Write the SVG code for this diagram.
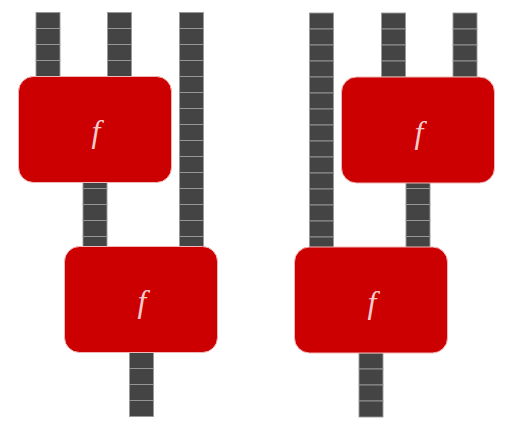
<svg xmlns="http://www.w3.org/2000/svg" width="513" height="430" viewBox="0 0 513 430">
<style>
.cell{fill:#444444;stroke:#9a9a9a;stroke-width:0.9}
.box{fill:#cc0000;stroke:#efb8b8;stroke-width:1}
.lbl{font-family:"Liberation Serif","DejaVu Serif",serif;font-style:italic;font-size:32px;fill:#f6cccc;text-anchor:middle}
</style>
<defs>
<pattern id="wireL" x="0" y="12.5" width="24" height="16" patternUnits="userSpaceOnUse">
<rect class="cell" x="0" y="0" width="24" height="16"/>
</pattern>
</defs>
<rect width="513" height="430" fill="#ffffff"/>
<g id="connectors">
<g id="wL1"><rect class="cell" x="36" y="12.5" width="24" height="16"/><rect class="cell" x="36" y="28.5" width="24" height="16"/><rect class="cell" x="36" y="44.5" width="24" height="16"/><rect class="cell" x="36" y="60.5" width="24" height="16"/></g>
<g id="wL2"><rect class="cell" x="107.5" y="12.5" width="24" height="16"/><rect class="cell" x="107.5" y="28.5" width="24" height="16"/><rect class="cell" x="107.5" y="44.5" width="24" height="16"/><rect class="cell" x="107.5" y="60.5" width="24" height="16"/></g>
<g id="wL3">
<rect class="cell" x="179.5" y="12.5" width="24" height="16"/><rect class="cell" x="179.5" y="28.5" width="24" height="16"/><rect class="cell" x="179.5" y="44.5" width="24" height="16"/><rect class="cell" x="179.5" y="60.5" width="24" height="16"/><rect class="cell" x="179.5" y="76.5" width="24" height="16"/><rect class="cell" x="179.5" y="92.5" width="24" height="16"/><rect class="cell" x="179.5" y="108.5" width="24" height="16"/><rect class="cell" x="179.5" y="124.5" width="24" height="16"/><rect class="cell" x="179.5" y="140.5" width="24" height="16"/><rect class="cell" x="179.5" y="156.5" width="24" height="16"/><rect class="cell" x="179.5" y="172.5" width="24" height="16"/><rect class="cell" x="179.5" y="188.5" width="24" height="16"/><rect class="cell" x="179.5" y="204.5" width="24" height="16"/><rect class="cell" x="179.5" y="220.5" width="24" height="16"/><rect class="cell" x="179.5" y="236.5" width="24" height="16"/>
</g>
<g id="wL4"><rect class="cell" x="83" y="172.5" width="24" height="16"/><rect class="cell" x="83" y="188.5" width="24" height="16"/><rect class="cell" x="83" y="204.5" width="24" height="16"/><rect class="cell" x="83" y="220.5" width="24" height="16"/><rect class="cell" x="83" y="236.5" width="24" height="16"/></g>
<g id="wL5"><rect class="cell" x="129.5" y="352.5" width="24" height="16"/><rect class="cell" x="129.5" y="368.5" width="24" height="16"/><rect class="cell" x="129.5" y="384.5" width="24" height="16"/><rect class="cell" x="129.5" y="400.5" width="24" height="16"/></g>

<g id="wR1">
<rect class="cell" x="309.5" y="13" width="24" height="16"/><rect class="cell" x="309.5" y="29" width="24" height="16"/><rect class="cell" x="309.5" y="45" width="24" height="16"/><rect class="cell" x="309.5" y="61" width="24" height="16"/><rect class="cell" x="309.5" y="77" width="24" height="16"/><rect class="cell" x="309.5" y="93" width="24" height="16"/><rect class="cell" x="309.5" y="109" width="24" height="16"/><rect class="cell" x="309.5" y="125" width="24" height="16"/><rect class="cell" x="309.5" y="141" width="24" height="16"/><rect class="cell" x="309.5" y="157" width="24" height="16"/><rect class="cell" x="309.5" y="173" width="24" height="16"/><rect class="cell" x="309.5" y="189" width="24" height="16"/><rect class="cell" x="309.5" y="205" width="24" height="16"/><rect class="cell" x="309.5" y="221" width="24" height="16"/><rect class="cell" x="309.5" y="237" width="24" height="16"/>
</g>
<g id="wR2"><rect class="cell" x="381.5" y="13" width="24" height="16"/><rect class="cell" x="381.5" y="29" width="24" height="16"/><rect class="cell" x="381.5" y="45" width="24" height="16"/><rect class="cell" x="381.5" y="61" width="24" height="16"/></g>
<g id="wR3"><rect class="cell" x="453" y="13" width="24" height="16"/><rect class="cell" x="453" y="29" width="24" height="16"/><rect class="cell" x="453" y="45" width="24" height="16"/><rect class="cell" x="453" y="61" width="24" height="16"/></g>
<g id="wR4"><rect class="cell" x="406" y="172.5" width="24" height="16"/><rect class="cell" x="406" y="188.5" width="24" height="16"/><rect class="cell" x="406" y="204.5" width="24" height="16"/><rect class="cell" x="406" y="220.5" width="24" height="16"/><rect class="cell" x="406" y="236.5" width="24" height="16"/></g>
<g id="wR5"><rect class="cell" x="359" y="353" width="24" height="16"/><rect class="cell" x="359" y="369" width="24" height="16"/><rect class="cell" x="359" y="385" width="24" height="16"/><rect class="cell" x="359" y="401" width="24" height="16"/></g>
</g>

<g id="nodeL1"><rect class="box" x="18.5" y="76.5" width="153" height="106" rx="15"/><text class="lbl" x="96" y="142">f</text></g>
<g id="nodeL2"><rect class="box" x="64.5" y="246.5" width="153" height="106" rx="15"/><text class="lbl" x="142" y="312">f</text></g>
<g id="nodeR1"><rect class="box" x="341.5" y="77" width="153" height="106" rx="15"/><text class="lbl" x="419" y="142.5">f</text></g>
<g id="nodeR2"><rect class="box" x="294.5" y="247" width="153" height="106" rx="15"/><text class="lbl" x="372" y="312.5">f</text></g>
</svg>
